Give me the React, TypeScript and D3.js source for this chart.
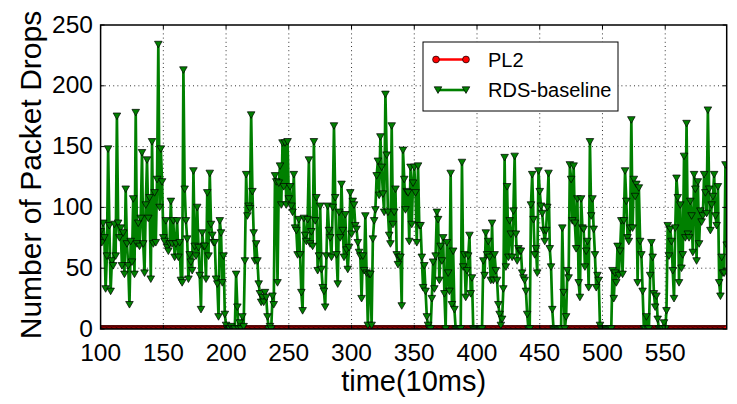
import React from "react";
import * as d3 from "d3";

const xStart = 100;
const rdsBaseline: number[] = [
  80, 71, 87, 75, 33, 60, 148, 85, 31, 56,
  52, 86, 60, 175, 87, 75, 83, 52, 79, 45,
  115, 70, 52, 20, 72, 55, 107, 45, 178, 70,
  87, 68, 91, 145, 70, 46, 102, 139, 91, 108,
  41, 154, 70, 112, 71, 123, 234, 100, 148, 121,
  75, 72, 89, 67, 64, 70, 105, 70, 89, 59,
  70, 89, 59, 71, 40, 38, 213, 115, 89, 74,
  41, 61, 55, 48, 130, 68, 60, 100, 67, 44,
  16, 79, 68, 68, 41, 112, 60, 128, 86, 77,
  71, 71, 41, 37, 10, 89, 79, 38, 60, 12,
  3, 0, 0, 0, 2, 0, 0, 0, 45, 18,
  0, 5, 0, 10, 2, 56, 127, 93, 101, 99,
  176, 113, 79, 56, 70, 56, 37, 29, 22, 26,
  22, 30, 26, 10, 0, 2, 0, 27, 20, 126,
  121, 38, 120, 134, 102, 153, 117, 153, 102, 154,
  107, 117, 101, 96, 127, 83, 81, 61, 90, 61,
  30, 15, 91, 77, 72, 90, 139, 70, 80, 68,
  154, 89, 108, 48, 60, 101, 49, 34, 31, 18,
  60, 101, 81, 75, 59, 100, 167, 108, 61, 37,
  96, 75, 119, 81, 59, 94, 65, 49, 67, 112,
  78, 105, 102, 85, 82, 71, 63, 60, 25, 60,
  48, 93, 46, 3, 45, 45, 3, 74, 89, 98,
  126, 138, 110, 158, 133, 111, 96, 193, 143, 96,
  77, 70, 167, 86, 96, 115, 61, 53, 59, 59,
  19, 147, 123, 98, 113, 112, 72, 133, 86, 120,
  133, 112, 71, 134, 85, 85, 59, 34, 52, 31,
  10, 3, 0, 0, 25, 55, 33, 60, 96, 90,
  40, 68, 56, 75, 29, 0, 71, 46, 31, 128,
  20, 64, 16, 0, 0, 0, 0, 0, 137, 51,
  61, 26, 48, 60, 77, 29, 42, 0, 0, 0,
  0, 0, 0, 0, 0, 56, 44, 79, 61, 72,
  59, 40, 87, 40, 61, 48, 40, 20, 12, 3,
  8, 33, 141, 51, 117, 59, 89, 78, 59, 97,
  142, 78, 56, 66, 64, 64, 46, 42, 40, 31,
  12, 0, 0, 102, 127, 90, 61, 66, 46, 130,
  113, 101, 95, 81, 72, 81, 100, 128, 66, 51,
  16, 0, 0, 0, 0, 0, 0, 0, 83, 30,
  0, 10, 48, 42, 135, 123, 89, 134, 87, 66,
  107, 38, 26, 107, 83, 82, 51, 64, 72, 34,
  154, 93, 107, 82, 61, 34, 44, 40, 3, 0,
  0, 0, 0, 0, 0, 0, 0, 0, 48, 25,
  46, 38, 68, 44, 64, 89, 45, 89, 130, 105,
  75, 72, 83, 172, 83, 123, 109, 119, 38, 116,
  72, 61, 31, 0, 0, 10, 0, 0, 44, 71,
  59, 29, 18, 27, 8, 0, 0, 0, 0, 5,
  0, 15, 85, 60, 82, 72, 48, 25, 83, 124,
  108, 38, 102, 50, 61, 142, 75, 169, 78, 75,
  105, 93, 63, 127, 115, 56, 121, 70, 97, 88,
  93, 127, 112, 95, 180, 115, 81, 102, 109, 127,
  93, 85, 117, 38, 27, 59, 46, 46, 135, 69,
];
const pl2: number[] = rdsBaseline.map(() => 0);

const xTicks = [100, 150, 200, 250, 300, 350, 400, 450, 500, 550];
const yTicks = [0, 50, 100, 150, 200, 250];
const xGrid = [150, 200, 250, 300, 350, 400, 450, 500, 550];
const yGrid = [50, 100, 150, 200];

const W = 737;
const H = 404;
const L = 100.6, R = 726.7, T = 25, B = 329;
const FONT = "'Liberation Sans', Arial, Helvetica, sans-serif";

export default function App() {
  const x = d3.scaleLinear().domain([100, 599]).range([L, R]);
  const y = d3.scaleLinear().domain([0, 250]).range([B, T]);
  const rds = rdsBaseline.map((v, i) => [xStart + i, v] as [number, number]);
  const red = pl2.map((v, i) => [xStart + i, v] as [number, number]);
  const line = d3.line<[number, number]>().x((d) => x(d[0])).y((d) => y(d[1]));
  const tri = (cx: number, cy: number) =>
    `M${cx - 3.8},${cy - 3.2}L${cx + 3.8},${cy - 3.2}L${cx},${cy + 3.4}Z`;

  return (
    <div style={{ position: "fixed", left: 0, top: 0, width: W, height: H, background: "#fff" }}>
      <svg width={W} height={H} style={{ display: "block" }} fontFamily={FONT}>
        <defs>
          <clipPath id="plotclip">
            <rect x={L} y={T} width={R - L} height={B - T} />
          </clipPath>
        </defs>
        <rect x={0} y={0} width={W} height={H} fill="#fff" />
        {/* grid */}
        <g stroke="#333" strokeWidth={1} strokeDasharray="1,3.2">
          {xGrid.map((t) => (
            <line key={"gx" + t} x1={x(t)} x2={x(t)} y1={T} y2={B} />
          ))}
          {yGrid.map((t) => (
            <line key={"gy" + t} x1={L} x2={R} y1={y(t)} y2={y(t)} />
          ))}
        </g>
        <g clipPath="url(#plotclip)">
          {/* PL2 */}
          <path d={line(red) || ""} fill="none" stroke="#ff0000" strokeWidth={2.5} />
          {red.map((d, i) => (
            <circle key={"c" + i} cx={x(d[0])} cy={y(d[1])} r={3.4} fill="#ff0000" stroke="#000" strokeWidth={0.7} />
          ))}
          {/* RDS-baseline */}
          <path d={line(rds) || ""} fill="none" stroke="#008000" strokeWidth={2.7} strokeLinejoin="round" />
          {rds.map((d, i) => (
            <path key={"t" + i} d={tri(x(d[0]), y(d[1]))} fill="#008000" stroke="#000" strokeWidth={0.7} />
          ))}
        </g>
        {/* frame */}
        <rect x={L} y={T} width={R - L} height={B - T} fill="none" stroke="#000" strokeWidth={1.5} />
        {/* ticks */}
        <g stroke="#000" strokeWidth={1}>
          {xTicks.map((t) => (
            <g key={"xt" + t}>
              <line x1={x(t)} x2={x(t)} y1={B} y2={B - 4} />
              <line x1={x(t)} x2={x(t)} y1={T} y2={T + 4} />
            </g>
          ))}
          {yTicks.map((t) => (
            <g key={"yt" + t}>
              <line x1={L} x2={L + 4} y1={y(t)} y2={y(t)} />
              <line x1={R} x2={R - 4} y1={y(t)} y2={y(t)} />
            </g>
          ))}
        </g>
        {xTicks.map((t) => (
          <text key={"xl" + t} x={x(t)} y={361} fontSize={24.5} textAnchor="middle" fill="#000">
            {t}
          </text>
        ))}
        {yTicks.map((t) => (
          <text key={"yl" + t} x={93} y={y(t) + 7.5} fontSize={24.5} textAnchor="end" fill="#000">
            {t}
          </text>
        ))}
        <text x={(L + R) / 2} y={391} fontSize={29} textAnchor="middle" fill="#000">
          time(10ms)
        </text>
        <text transform={`translate(41,175) rotate(-90)`} fontSize={30} textAnchor="middle" fill="#000">
          Number of Packet Drops
        </text>
        {/* legend */}
        <g>
          <rect x={423} y={42} width={195} height={69} fill="#fff" stroke="#000" strokeWidth={1} />
          <line x1={436} x2={466} y1={59.5} y2={59.5} stroke="#ff0000" strokeWidth={2.5} />
          <circle cx={436} cy={59.5} r={3.4} fill="#ff0000" stroke="#000" strokeWidth={0.7} />
          <circle cx={466} cy={59.5} r={3.4} fill="#ff0000" stroke="#000" strokeWidth={0.7} />
          <text x={488} y={66.5} fontSize={20} fill="#000">PL2</text>
          <line x1={438} x2={466} y1={90} y2={90} stroke="#008000" strokeWidth={2.6} />
          <path d={tri(438, 90)} fill="#008000" stroke="#000" strokeWidth={0.7} />
          <path d={tri(466, 90)} fill="#008000" stroke="#000" strokeWidth={0.7} />
          <text x={488} y={97} fontSize={20} fill="#000">RDS-baseline</text>
        </g>
      </svg>
    </div>
  );
}
